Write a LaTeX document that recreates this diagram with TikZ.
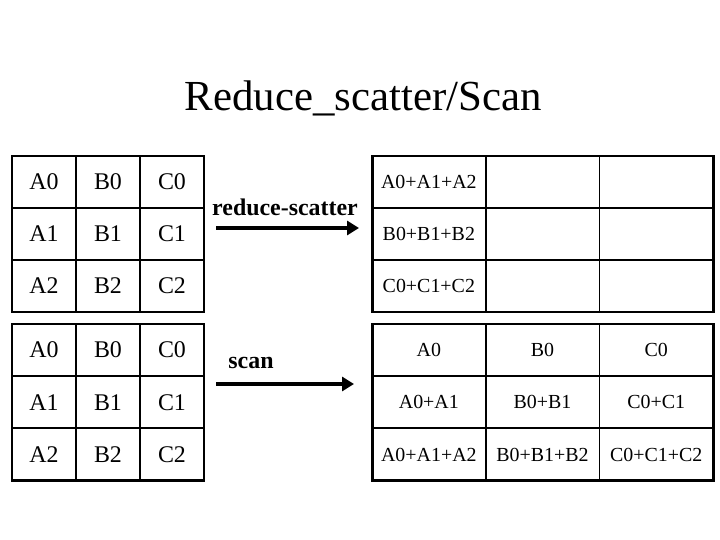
\documentclass[tikz,border=0pt]{standalone}
\usepackage{fontspec}
\setmainfont{Liberation Serif}
\usetikzlibrary{arrows.meta}

\tikzset{
  cell/.style={draw, line width=1.8pt, inner sep=0pt, outer sep=0pt, anchor=north west},
  incell/.style={cell, minimum width=64bp, minimum height=52bp, font=\fontsize{24}{28}\selectfont},
  outcell/.style={cell, minimum width=113.7bp, minimum height=52bp, font=\fontsize{20}{24}\selectfont},
  frame/.style={draw, line width=3pt},
  flow/.style={line width=3.6pt, -{Triangle[length=12bp,width=14bp]}},
  oplabel/.style={font=\bfseries\fontsize{24}{28}\selectfont, anchor=base},
}

\begin{document}
\begin{tikzpicture}[x=1bp,y=-1bp]
\useasboundingbox[fill=white] (0,0) rectangle (720,540);

\node[font=\fontsize{43}{50}\selectfont, anchor=base] (title) at (363,110.7) {Reduce\_scatter/Scan};

% reduce-scatter: input and output
\foreach \col [count=\c] in {A,B,C}
  \foreach \row [count=\r] in {0,1,2}
    \node[incell] (rsin-\r-\c) at ({12+64*(\c-1)},{156+52*(\r-1)}) {\col\row};
\foreach \col [count=\r] in {A,B,C}{
  \node[outcell] (rsout-\r-1) at (372,{156+52*(\r-1)}) {\col0+\col1+\col2};
  \node[outcell] (rsout-\r-2) at (485.7,{156+52*(\r-1)}) {};
  \node[outcell] (rsout-\r-3) at (599.4,{156+52*(\r-1)}) {};
}
\draw[frame] (rsin-1-1.north west) rectangle (rsin-3-3.south east);
\draw[frame] (rsout-1-1.north west) rectangle (rsout-3-3.south east);

\node[oplabel] (rs-lbl) at (285,216) {reduce-scatter};
\coordinate (rs-tail) at (216,228);
\coordinate (rs-head) at (359,228);
\draw[flow] (rs-tail) -- (rs-head);

% scan: input and output
\foreach \col [count=\c] in {A,B,C}
  \foreach \row [count=\r] in {0,1,2}
    \node[incell] (scin-\r-\c) at ({12+64*(\c-1)},{324+52.3*(\r-1)}) {\col\row};
\foreach \col [count=\c] in {A,B,C}{
  \node[outcell] (scout-1-\c) at ({372+113.7*(\c-1)},324) {\col0};
  \node[outcell] (scout-2-\c) at ({372+113.7*(\c-1)},376.3) {\col0+\col1};
  \node[outcell] (scout-3-\c) at ({372+113.7*(\c-1)},428.6) {\col0+\col1+\col2};
}
\draw[frame] (scin-1-1.north west) rectangle (scin-3-3.south east);
\draw[frame] (scout-1-1.north west) rectangle (scout-3-3.south east);

\node[oplabel] (sc-lbl) at (251,368) {scan};
\coordinate (sc-tail) at (216,384);
\coordinate (sc-head) at (354,384);
\draw[flow] (sc-tail) -- (sc-head);
\end{tikzpicture}
\end{document}
